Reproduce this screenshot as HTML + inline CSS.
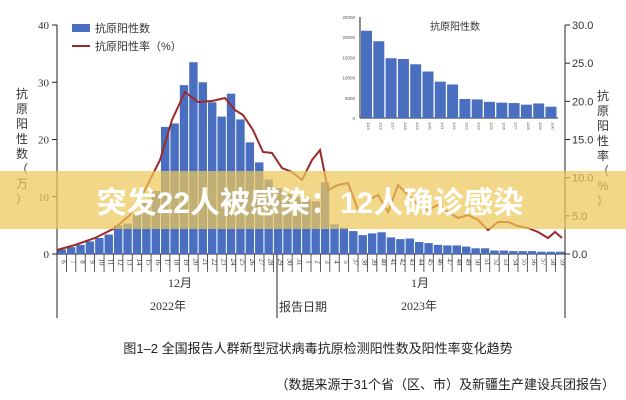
<!DOCTYPE html>
<html><head><meta charset="utf-8"><style>
body{margin:0;width:626px;height:400px;background:#fff;overflow:hidden}
svg{display:block}
text{font-family:"Liberation Serif","Noto Sans CJK SC",serif;}
.s{font-family:"Liberation Sans","Noto Sans CJK SC",sans-serif}
</style></head><body>
<svg id="c" width="626" height="400" xmlns="http://www.w3.org/2000/svg"></svg>
<script>
const s=document.getElementById('c');let h='';
const Y=v=>254-v*5.725, YR=v=>254-v*7.633;
h+='<line x1="57" y1="25" x2="57" y2="318" stroke="#222" stroke-width="1"/>';
h+='<line x1="565" y1="25" x2="565" y2="318" stroke="#222" stroke-width="1"/>';
h+='<line x1="277" y1="254" x2="277" y2="318" stroke="#222" stroke-width="1"/>';
h+='<line x1="57" y1="254" x2="565" y2="254" stroke="#222"/>';
[0,10,20,30,40].forEach(v=>{h+=`<line x1="52" x2="57" y1="${Y(v)}" y2="${Y(v)}" stroke="#222"/><text x="49" y="${Y(v)+4}" font-size="11" text-anchor="end" fill="#333">${v}</text>`});
[0,5,10,15,20,25,30].forEach(v=>{h+=`<line x1="565" x2="570" y1="${YR(v)}" y2="${YR(v)}" stroke="#222"/><text class="s" x="572" y="${YR(v)+4}" font-size="11" fill="#333">${v.toFixed(1)}</text>`});
const b=[0.8,1.2,1.6,2.2,2.8,3.4,5,5.3,7,9,11,22.2,22.8,29.5,33.5,30,26.5,24,28,23.5,19.5,16,13,11.5,10.5,10,9.5,9.2,12.5,5.2,4.6,4.0,3.3,3.6,3.8,2.9,2.6,2.7,2.1,1.9,1.6,1.5,1.5,1.3,1.0,1.0,0.6,0.6,0.5,0.5,0.5,0.4,0.4,0.4];
const p=508/54;
b.forEach((v,i)=>{const x=57+i*p;h+=`<rect x="${x+0.5}" y="${Y(v)}" width="${p-1}" height="${v*5.725}" fill="#4a6fc0"/>`;
h+=`<line x1="${x}" x2="${x}" y1="254" y2="272" stroke="#333" stroke-width="0.8"/>`;
h+=`<text x="${x+p/2}" y="262" font-size="7" text-anchor="middle" fill="#333" transform="rotate(90 ${x+p/2} 262)">${(i%31)+6>31?(i-25):(i+6)}</text>`;});
const L=[[57,250],[75,245],[95,238],[115,228],[130,215],[145,190],[160,160],[172,120],[185,92],[198,102],[212,101],[225,98],[235,110],[243,115],[253,130],[263,152],[272,153],[282,168],[292,172],[302,180],[312,160],[320,150],[328,190],[338,185],[348,183],[358,210],[368,200],[378,195],[388,212],[398,185],[408,195],[418,205],[428,210],[438,205],[448,212],[458,218],[468,215],[478,220],[488,230],[498,222],[508,222],[518,226],[528,228],[538,232],[548,238],[555,232],[562,238]];
h+=`<polyline points="${L.map(a=>a.join(',')).join(' ')}" fill="none" stroke="#9b2a2a" stroke-width="2"/>`;
h+='<rect x="72" y="24" width="18" height="8" fill="#4a6fc0"/><text class="s" x="95" y="32" font-size="11" fill="#333">抗原阳性数</text>';
h+='<line x1="72" x2="90" y1="46" y2="46" stroke="#9b2a2a" stroke-width="2"/><text class="s" x="95" y="50" font-size="11" fill="#333">抗原阳性率（%）</text>';
'抗原阳性数（万）'.split('').forEach((c,i)=>{h+=`<text class="s" x="22" y="${98+i*15}" font-size="12" text-anchor="middle" fill="#333">${c}</text>`});
'抗原阳性率（%）'.split('').forEach((c,i)=>{h+=`<text class="s" x="603" y="${100+i*15}" font-size="12" text-anchor="middle" fill="#333">${c}</text>`});
h+='<rect x="320" y="14" width="240" height="120" fill="#fff"/>';
h+='<line x1="360" x2="360" y1="17" y2="118" stroke="#222"/><line x1="360" x2="558" y1="118" y2="118" stroke="#222"/>';
[0,5000,10000,15000,20000,25000].forEach(v=>{const y=118-v*101/25000;h+=`<text class="s" x="355" y="${y+2}" font-size="4.5" text-anchor="end" fill="#555">${v}</text>`});
h+='<text class="s" x="455" y="30" font-size="10" text-anchor="middle" fill="#333">抗原阳性数</text>';
const ib=[21600,19000,14800,14600,13300,11500,9000,8300,4700,4600,4000,3800,3700,3300,3600,2800];
ib.forEach((v,i)=>{const x=360+i*12.3;const hh=v*101/25000;h+=`<rect x="${x+1}" y="${118-hh}" width="11" height="${hh}" fill="#4a6fc0"/><text class="s" x="${x+7}" y="122" font-size="4" fill="#555" transform="rotate(90 ${x+7} 122)">1/${i+15}</text>`});
h+='<text x="180" y="287" font-size="12" text-anchor="middle" fill="#333">12月</text>';
h+='<text x="420" y="287" font-size="12" text-anchor="middle" fill="#333">1月</text>';
h+='<text x="168" y="310" font-size="12" text-anchor="middle" fill="#333">2022年</text>';
h+='<text x="279" y="311" font-size="12" fill="#333">报告日期</text>';
h+='<text x="419" y="310" font-size="12" text-anchor="middle" fill="#333">2023年</text>';
h+='<text class="s" x="318" y="353" font-size="13" text-anchor="middle" fill="#222">图1–2 全国报告人群新型冠状病毒抗原检测阳性数及阳性率变化趋势</text>';
h+='<text class="s" x="615" y="389" font-size="13" text-anchor="end" fill="#222">（数据来源于31个省（区、市）及新疆生产建设兵团报告）</text>';
h+='<rect x="0" y="171" width="626" height="58" fill="rgb(238,200,90)" fill-opacity="0.72"/>';
h+='<text class="s" x="310" y="213" font-size="30" font-weight="bold" text-anchor="middle" fill="#fff">突发22人被感染：12人确诊感染</text>';
s.innerHTML=h;
</script>
</body></html>
